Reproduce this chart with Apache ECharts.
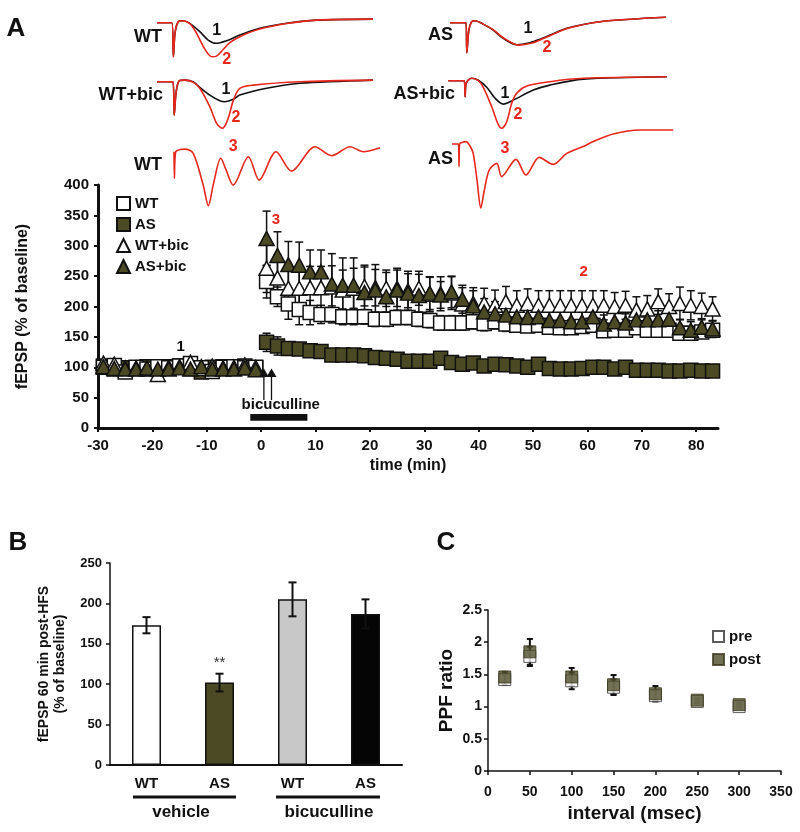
<!DOCTYPE html>
<html><head><meta charset="utf-8">
<script src="https://cdn.jsdelivr.net/npm/echarts@6/dist/echarts.min.js"></script>
<style>html,body{margin:0;padding:0;background:#fff}#c{width:800px;height:832px}</style>
</head><body><div id="c"></div>
<script>
// ---------------- DATA ----------------
// Panel A time course (time in min, fEPSP % of baseline)
const baseTimes = [-29,-27,-25,-23,-21,-19,-17,-15,-13,-11,-9,-7,-5,-3,-1];
const postTimes = [1,3,5,7,9,11,13,15,17,19,21,23,25,27,29,31,33,35,37,39,41,43,45,47,49,51,53,55,57,59,61,63,65,67,69,71,73,75,77,79,81,83];

const wtBase    = [100,103,92,100,97,101,99,102,106,99,93,100,101,99,100];
const asBase    = [102,97,99,98,101,100,101,102,98,92,100,101,100,102,99];
const wtBicBase = [107,105,99,99,98,88,100,101,108,98,102,99,100,104,100];
const asBicBase = [101,98,97,97,99,97,97,99,97,101,97,97,97,99,96];
const baseErr   = [5,5,5,5,5,5,5,5,5,5,5,5,5,5,5];

const wtPost    = [241,216,204,195,190,187,187,183,183,183,179,179,182,182,179,177,173,173,173,175,172,175,171,169,168,169,166,165,165,167,169,160,161,161,165,161,161,161,156,156,158,161];
const asPost    = [141,135,131,130,127,126,120,120,120,119,116,115,113,110,110,110,115,108,105,107,102,105,104,102,100,105,98,97,97,98,100,100,97,100,95,95,95,94,94,95,94,94];
const wtBicPost = [263,247,230,230,231,231,232,227,230,233,231,230,230,226,230,220,221,222,204,205,205,202,208,202,205,202,202,202,202,202,202,202,200,202,194,196,208,200,205,202,200,196];
const asBicPost = [312,284,269,268,257,257,237,235,235,223,227,216,227,222,218,222,219,224,212,201,191,188,186,183,182,183,177,177,175,175,183,171,175,173,178,178,178,179,165,161,166,163];

const wtErrPost    = [27,16,25,25,20,15,14,13,13,12,12,12,12,12,12,12,12,12,12,12,12,12,12,10,10,10,10,10,10,10,10,10,10,10,10,10,10,10,8,8,8,8];
const asErrPost    = [15,15,8,6,6,5,5,5,5,5,5,5,5,5,5,5,6,5,5,5,5,5,5,5,5,5,5,5,5,5,5,5,5,10,5,5,5,5,5,5,5,5];
const wtBicErrPost = [40,38,35,35,35,35,35,33,33,32,30,30,30,28,28,28,28,27,27,26,25,25,25,24,24,24,24,24,24,24,24,24,23,23,22,22,21,21,27,24,22,20];
const asBicErrPost = [45,39,38,38,36,36,50,45,45,45,42,40,36,36,35,27,22,26,23,25,22,20,20,18,18,18,17,17,16,16,16,15,15,15,15,15,15,15,14,14,14,14];

// Panel A example traces ([time ms, amplitude mV])
const wtVehBlack = [[0,0],[3.7,0],[4.1,-1.7],[4.5,-0.52],[5.3,0.05],[6.4,0.1],[8.2,-0.03],[10.7,-0.45],[12.8,-0.87],[14.7,-1.03],[17.4,-0.9],[20.7,-0.62],[25.7,-0.28],[32.4,-0.03],[39.9,0.13],[54,0.18]];
const wtVehRed   = [[0,0],[3.7,0],[4.1,-1.7],[4.5,-0.52],[5.3,0.05],[6.4,0.1],[8.2,-0.05],[9.9,-0.53],[11.6,-1.2],[13.7,-1.7],[14.9,-1.67],[16.6,-1.33],[18.2,-1.0],[20.7,-0.7],[25.7,-0.32],[32.4,-0.04],[39.9,0.13],[54,0.18]];
const wtBicBlack = [[0,0],[4.0,0],[4.3,-1.67],[4.8,-0.5],[5.6,0.05],[7,0.08],[9,0],[10.7,-0.28],[13.2,-0.67],[15.7,-0.95],[17,-1.0],[19.1,-0.88],[20.7,-0.67],[27.4,-0.33],[35.7,-0.08],[54,0.08]];
const wtBicRed   = [[0,0],[4.0,0],[4.3,-1.67],[4.8,-0.5],[5.6,0.05],[7,0.08],[9,-0.02],[10.7,-0.33],[13.2,-1.25],[14.9,-2.08],[16.4,-2.33],[17.8,-1.83],[19.1,-0.92],[20.7,-0.33],[24.1,-0.17],[35.7,0],[54,0.08]];
const wtTetRed   = [[0,0],[0.1,-1.33],[0.4,-0.02],[1.5,0.11],[2.75,0.13],[4.8,-0.08],[7.3,-1.67],[8.6,-2.7],[9.8,-1.67],[11.7,-0.33],[13,-0.9],[14.8,-1.67],[18.6,-0.25],[21.3,-1.42],[25.5,0],[29.4,-0.97],[35.25,0.25],[39.4,-0.2],[44,0.25],[47.3,0],[51.5,0.2]];
const asVehBlack = [[0,0],[4.0,0],[4.2,-1.5],[4.7,-0.4],[5.4,0.05],[6.25,0.1],[8.3,-0.07],[10.8,-0.37],[13.3,-0.78],[16.7,-1.1],[20,-1.0],[22.5,-0.83],[25,-0.62],[29.2,-0.28],[37.5,0.05],[54,0.27]];
const asVehRed   = [[0,0],[4.0,0],[4.2,-1.5],[4.7,-0.4],[5.4,0.05],[6.25,0.1],[8.3,-0.07],[10.8,-0.35],[13.3,-0.75],[17.2,-1.12],[20.5,-1.02],[23,-0.82],[25.5,-0.6],[29.5,-0.28],[37.5,0.05],[54,0.27]];
const asBicBlack = [[0,0],[4.0,0],[4.2,-0.8],[4.5,-0.1],[5.85,0.12],[7.5,0.02],[9.6,-0.33],[11.7,-0.88],[13.75,-1.17],[16.25,-0.97],[21.25,-0.47],[25.4,-0.22],[33.75,0.08],[54.6,0.2]];
const asBicRed   = [[0,0],[4.0,0],[4.2,-0.8],[4.5,-0.1],[5.85,0.12],[7.5,0.0],[8.75,-0.33],[10.85,-1.3],[12.5,-2.2],[13.35,-2.38],[14.6,-2.05],[15.85,-1.13],[17.1,-0.63],[19.6,-0.27],[25.4,-0.05],[33.75,0.12],[54.6,0.2]];
const asTetRed   = [[0,0],[1.6,0],[1.75,-1.13],[1.9,0],[2.5,0.08],[3.5,0.12],[4.5,-0.1],[5.3,-0.47],[6.25,-1.8],[7.2,-3.2],[8,-2.4],[9.3,-1.3],[11.2,-0.97],[12.4,-1.63],[16,-0.77],[18.5,-1.55],[21.8,-0.67],[25.3,-1.02],[28.7,-0.47],[32.8,-0.13],[35.3,0.12],[40.3,0.5],[47,0.7],[55.3,0.7]];

// Panel B
const bCats   = ['WT','AS','WT','AS'];
const bValues = [173,102,205,187];
const bErrors = [10,11,21,18];

// Panel C
const cIntervals = [20,50,100,150,200,250,300];
const cPre     = [1.42,1.78,1.40,1.30,1.17,1.08,1.00];
const cPreErr  = [0.08,0.15,0.13,0.12,0.08,0.03,0.03];
const cPost    = [1.46,1.85,1.46,1.34,1.20,1.10,1.03];
const cPostErr = [0.08,0.20,0.14,0.15,0.12,0.03,0.03];

// ---------------- STYLE ----------------
const FONT = '"Liberation Sans", Arial, sans-serif';
const OLIVE = '#4b4a24';
const RED = '#e8261c';
const INK = '#111';

function pairs(t, v){ return t.map((x,i)=>[x, v[i]]); }
function errTriples(t, v, e){ return t.map((x,i)=>[x, v[i]-e[i], v[i]+e[i]]); }

function errRender(capHalf, lw){
  return function(params, api){
    const x = api.value(0), lo = api.value(1), hi = api.value(2);
    const p1 = api.coord([x, hi]), p2 = api.coord([x, lo]);
    const st = {stroke: INK, lineWidth: lw};
    return {type:'group', children:[
      {type:'line', shape:{x1:p1[0],y1:p1[1],x2:p2[0],y2:p2[1]}, style:st},
      {type:'line', shape:{x1:p1[0]-capHalf,y1:p1[1],x2:p1[0]+capHalf,y2:p1[1]}, style:st},
      {type:'line', shape:{x1:p2[0]-capHalf,y1:p2[1],x2:p2[0]+capHalf,y2:p2[1]}, style:st}
    ]};
  };
}

const allTimes = baseTimes.concat(postTimes);
const groupsA = [
  {name:'AS',     vals: asBase.concat(asPost),       errs: baseErr.concat(asErrPost),    symbol:'rect',     size:[14,14], color:OLIVE},
  {name:'WT',     vals: wtBase.concat(wtPost),       errs: baseErr.concat(wtErrPost),    symbol:'rect',     size:[14,14], color:'#fff'},
  {name:'WT+bic', vals: wtBicBase.concat(wtBicPost), errs: baseErr.concat(wtBicErrPost), symbol:'triangle', size:[15,14], color:'#fff'},
  {name:'AS+bic', vals: asBicBase.concat(asBicPost), errs: baseErr.concat(asBicErrPost), symbol:'triangle', size:[15,14], color:OLIVE}
];

const axisLabelStyle = (size)=>({fontFamily:FONT, fontWeight:'bold', fontSize:size, color:INK});

// ---------------- GRIDS / AXES ----------------
const grids = [{left:98, top:185, width:620, height:243}];
const xAxes = [{
  gridIndex:0, type:'value', min:-30, max:84, interval:10,
  axisLine:{show:true, onZero:false, lineStyle:{color:INK, width:3}},
  axisTick:{show:true, length:4, lineStyle:{color:INK, width:2}},
  axisLabel:Object.assign({margin:10, showMaxLabel:false, formatter:v=> (v%10===0? String(v):'')}, axisLabelStyle(15)),
  splitLine:{show:false},
  name:'time (min)', nameLocation:'middle', nameGap:30,
  nameTextStyle:{fontFamily:FONT, fontWeight:'bold', fontSize:16, color:INK}
}];
const yAxes = [{
  gridIndex:0, type:'value', min:0, max:400, interval:50,
  axisLine:{show:true, onZero:false, lineStyle:{color:INK, width:3}},
  axisTick:{show:true, length:4, lineStyle:{color:INK, width:2}},
  axisLabel:Object.assign({margin:9}, axisLabelStyle(15)),
  splitLine:{show:false},
  name:'fEPSP (% of baseline)', nameLocation:'middle', nameGap:67, nameRotate:90,
  nameTextStyle:{fontFamily:FONT, fontWeight:'bold', fontSize:16, color:INK}
}];

// trace grids (layout only)
const traceLayout = [
  {left:157, base:22.7, lines:[[wtVehBlack,INK],[wtVehRed,RED]]},
  {left:157, base:81.7, lines:[[wtBicBlack,INK],[wtBicRed,RED]]},
  {left:174, base:151.7, lines:[[wtTetRed,RED]]},
  {left:450, base:22.7, lines:[[asVehBlack,INK],[asVehRed,RED]]},
  {left:448.3, base:80.7, lines:[[asBicBlack,INK],[asBicRed,RED]]},
  {left:452, base:144, lines:[[asTetRed,RED]]}
];
const series = [];
traceLayout.forEach((tl, k)=>{
  const gi = k+1;
  grids.push({left:tl.left, top:tl.base-16, width:224, height:86});
  xAxes.push({gridIndex:gi, type:'value', min:0, max:56, show:false});
  yAxes.push({gridIndex:gi, type:'value', min:-3.5, max:0.8, show:false});
  tl.lines.forEach(([d,c])=>{
    series.push({type:'line', xAxisIndex:gi, yAxisIndex:gi, data:d, showSymbol:false, smooth:0.3,
      lineStyle:{color:c, width:1.6}, silent:true, z:5});
  });
});

// Panel B grid (index 7)
grids.push({left:110, top:563, width:292, height:202});
xAxes.push({gridIndex:7, type:'category', data:bCats,
  axisLine:{show:true, onZero:false, lineStyle:{color:INK, width:2}}, axisTick:{show:false},
  axisLabel:Object.assign({margin:11}, axisLabelStyle(15))});
yAxes.push({gridIndex:7, type:'value', min:0, max:250, interval:50,
  axisLine:{show:true, onZero:false, lineStyle:{color:INK, width:1.5}},
  axisTick:{show:true, length:4, lineStyle:{color:INK, width:1.5}},
  axisLabel:Object.assign({margin:8}, axisLabelStyle(13)),
  splitLine:{show:false},
  name:'fEPSP 60 min post-HFS\n(% of baseline)', nameLocation:'middle', nameGap:42, nameRotate:90,
  nameTextStyle:{fontFamily:FONT, fontWeight:'bold', fontSize:14, color:INK, lineHeight:16}});

// Panel C grid (index 8)
grids.push({left:488, top:610, width:293, height:161});
xAxes.push({gridIndex:8, type:'value', min:0, max:350, interval:50,
  axisLine:{show:true, onZero:false, lineStyle:{color:INK, width:1.5}},
  axisTick:{show:true, length:4, lineStyle:{color:INK, width:1.5}},
  axisLabel:Object.assign({margin:14}, axisLabelStyle(14)),
  splitLine:{show:false},
  name:'interval (msec)', nameLocation:'middle', nameGap:33,
  nameTextStyle:{fontFamily:FONT, fontWeight:'bold', fontSize:19, color:INK}});
yAxes.push({gridIndex:8, type:'value', min:0, max:2.5, interval:0.5,
  axisLine:{show:true, onZero:false, lineStyle:{color:INK, width:1.5}},
  axisTick:{show:true, length:4, lineStyle:{color:INK, width:1.5}},
  axisLabel:Object.assign({margin:6}, axisLabelStyle(14)),
  splitLine:{show:false},
  name:'PPF ratio', nameLocation:'middle', nameGap:32, nameRotate:90,
  nameTextStyle:{fontFamily:FONT, fontWeight:'bold', fontSize:19, color:INK}});

// ---------------- SERIES: Panel A ----------------
groupsA.forEach(g=>{
  series.push({type:'custom', xAxisIndex:0, yAxisIndex:0, renderItem:errRender(4,1.5),
    data:errTriples(allTimes, g.vals, g.errs), encode:{x:0, y:[1,2]}, z:2, silent:true});
});
groupsA.forEach(g=>{
  series.push({type:'scatter', name:g.name, xAxisIndex:0, yAxisIndex:0, data:pairs(allTimes, g.vals),
    symbol:g.symbol, symbolSize:g.size,
    itemStyle:{color:g.color, borderColor:INK, borderWidth:1.5, opacity:1}, z:3, silent:true});
});
// annotations in panel A (bicuculline bar, arrows, labels)
series.push({type:'custom', xAxisIndex:0, yAxisIndex:0, data:[[0,0]], z:4, silent:true,
  renderItem:function(params, api){
    const a = api.coord([-2, 23]), b = api.coord([8.5, 12]);
    const kids = [{type:'rect', shape:{x:a[0], y:a[1], width:b[0]-a[0], height:b[1]-a[1]}, style:{fill:INK}}];
    [0.5, 1.9].forEach(t=>{
      const s = api.coord([t, 46]), h0 = api.coord([t, 84]), h1 = api.coord([t, 98]);
      kids.push({type:'line', shape:{x1:s[0],y1:s[1],x2:h0[0],y2:h0[1]}, style:{stroke:INK, lineWidth:1.3}});
      kids.push({type:'polygon', shape:{points:[[h1[0],h1[1]],[h0[0]-5,h0[1]],[h0[0]+5,h0[1]]]}, style:{fill:INK}});
    });
    const tp = api.coord([3.6, 38]);
    kids.push({type:'text', x:tp[0], y:tp[1], style:{text:'bicuculline', fill:INK, font:'bold 15px '+FONT, align:'center', verticalAlign:'middle'}});
    const l1 = api.coord([-14.8, 133]), l3 = api.coord([2.7, 342]), l2 = api.coord([59.3, 257]);
    kids.push({type:'text', x:l1[0], y:l1[1], style:{text:'1', fill:INK, font:'bold 15px '+FONT, align:'center', verticalAlign:'middle'}});
    kids.push({type:'text', x:l3[0], y:l3[1], style:{text:'3', fill:RED, font:'bold 15px '+FONT, align:'center', verticalAlign:'middle'}});
    kids.push({type:'text', x:l2[0], y:l2[1], style:{text:'2', fill:RED, font:'bold 15px '+FONT, align:'center', verticalAlign:'middle'}});
    return {type:'group', children:kids};
  }});

// ---------------- SERIES: Panel B ----------------
const bColors = ['#ffffff', OLIVE, '#c8c8c8', '#050505'];
series.push({type:'bar', xAxisIndex:7, yAxisIndex:7, barWidth:29, silent:true, z:2,
  data:bValues.map((v,i)=>({value:v, itemStyle:{color:bColors[i], borderColor:INK, borderWidth:1.5},
    label: i===1 ? {show:true, position:'top', distance:12, formatter:'**', fontFamily:FONT, fontSize:15, color:'#333'} : {show:false}}))});
series.push({type:'custom', xAxisIndex:7, yAxisIndex:7, renderItem:errRender(4,2), z:3, silent:true,
  data:bValues.map((v,i)=>[i, v-bErrors[i], v+bErrors[i]]), encode:{x:0, y:[1,2]}});

// ---------------- SERIES: Panel C ----------------
series.push({type:'custom', xAxisIndex:8, yAxisIndex:8, renderItem:errRender(3,2), z:2, silent:true,
  data:errTriples(cIntervals, cPre, cPreErr), encode:{x:0, y:[1,2]}});
series.push({type:'custom', xAxisIndex:8, yAxisIndex:8, renderItem:errRender(3,2), z:2, silent:true,
  data:errTriples(cIntervals, cPost, cPostErr), encode:{x:0, y:[1,2]}});
series.push({type:'scatter', name:'pre', xAxisIndex:8, yAxisIndex:8, data:pairs(cIntervals, cPre),
  symbol:'rect', symbolSize:12, itemStyle:{color:'#fff', borderColor:'#333', borderWidth:1}, z:3, silent:true});
series.push({type:'scatter', name:'post', xAxisIndex:8, yAxisIndex:8, data:pairs(cIntervals, cPost),
  symbol:'rect', symbolSize:12, itemStyle:{color:'#4f4e2c', borderColor:'#3a3a1e', borderWidth:1}, z:4, silent:true});

// ---------------- GRAPHIC (panel letters, trace labels) ----------------
const txt = (x,y,t,size,color,align)=>({type:'text', x:x, y:y, silent:true,
  style:{text:t, fill:color||INK, font:'bold '+size+'px '+FONT, align:align||'center', verticalAlign:'middle'}});
const graphic = [
  txt(16,29,'A',26), txt(18,543,'B',26), txt(446,543,'C',26),
  txt(162,37,'WT',18,INK,'right'), txt(163,95,'WT+bic',18,INK,'right'), txt(162,165,'WT',18,INK,'right'),
  txt(453,35,'AS',18,INK,'right'), txt(455,94,'AS+bic',18,INK,'right'), txt(453,159,'AS',18,INK,'right'),
  txt(216.7,31,'1',16), txt(226.7,60,'2',16,RED), txt(226,90,'1',16), txt(236,118,'2',16,RED), txt(233.3,147,'3',16,RED),
  txt(528,29,'1',16), txt(547,48,'2',16,RED), txt(505,94,'1',16), txt(518,115,'2',16,RED), txt(505,149,'3',16,RED),
  {type:'line', silent:true, shape:{x1:133,y1:797,x2:236,y2:797}, style:{stroke:INK, lineWidth:3}},
  {type:'line', silent:true, shape:{x1:276,y1:797,x2:380,y2:797}, style:{stroke:INK, lineWidth:3}},
  txt(181,812,'vehicle',17), txt(329,812,'bicuculline',17)
];

const chart = echarts.init(document.getElementById('c'), null, {renderer:'canvas'});
chart.setOption({
  animation:false,
  backgroundColor:'#fff',
  grid:grids, xAxis:xAxes, yAxis:yAxes,
  legend:[
    {data:['WT','AS','WT+bic','AS+bic'], orient:'vertical', left:116, top:196, itemWidth:13, itemHeight:13, itemGap:6, padding:0,
     selectedMode:false, textStyle:{fontFamily:FONT, fontWeight:'bold', fontSize:15, color:INK}},
    {data:['pre','post'], orient:'vertical', left:712, top:629, itemWidth:11, itemHeight:11, itemGap:8, padding:0,
     selectedMode:false, textStyle:{fontFamily:FONT, fontWeight:'bold', fontSize:15, color:INK}}
  ],
  series:series,
  graphic:graphic
});
</script>
</body></html>
